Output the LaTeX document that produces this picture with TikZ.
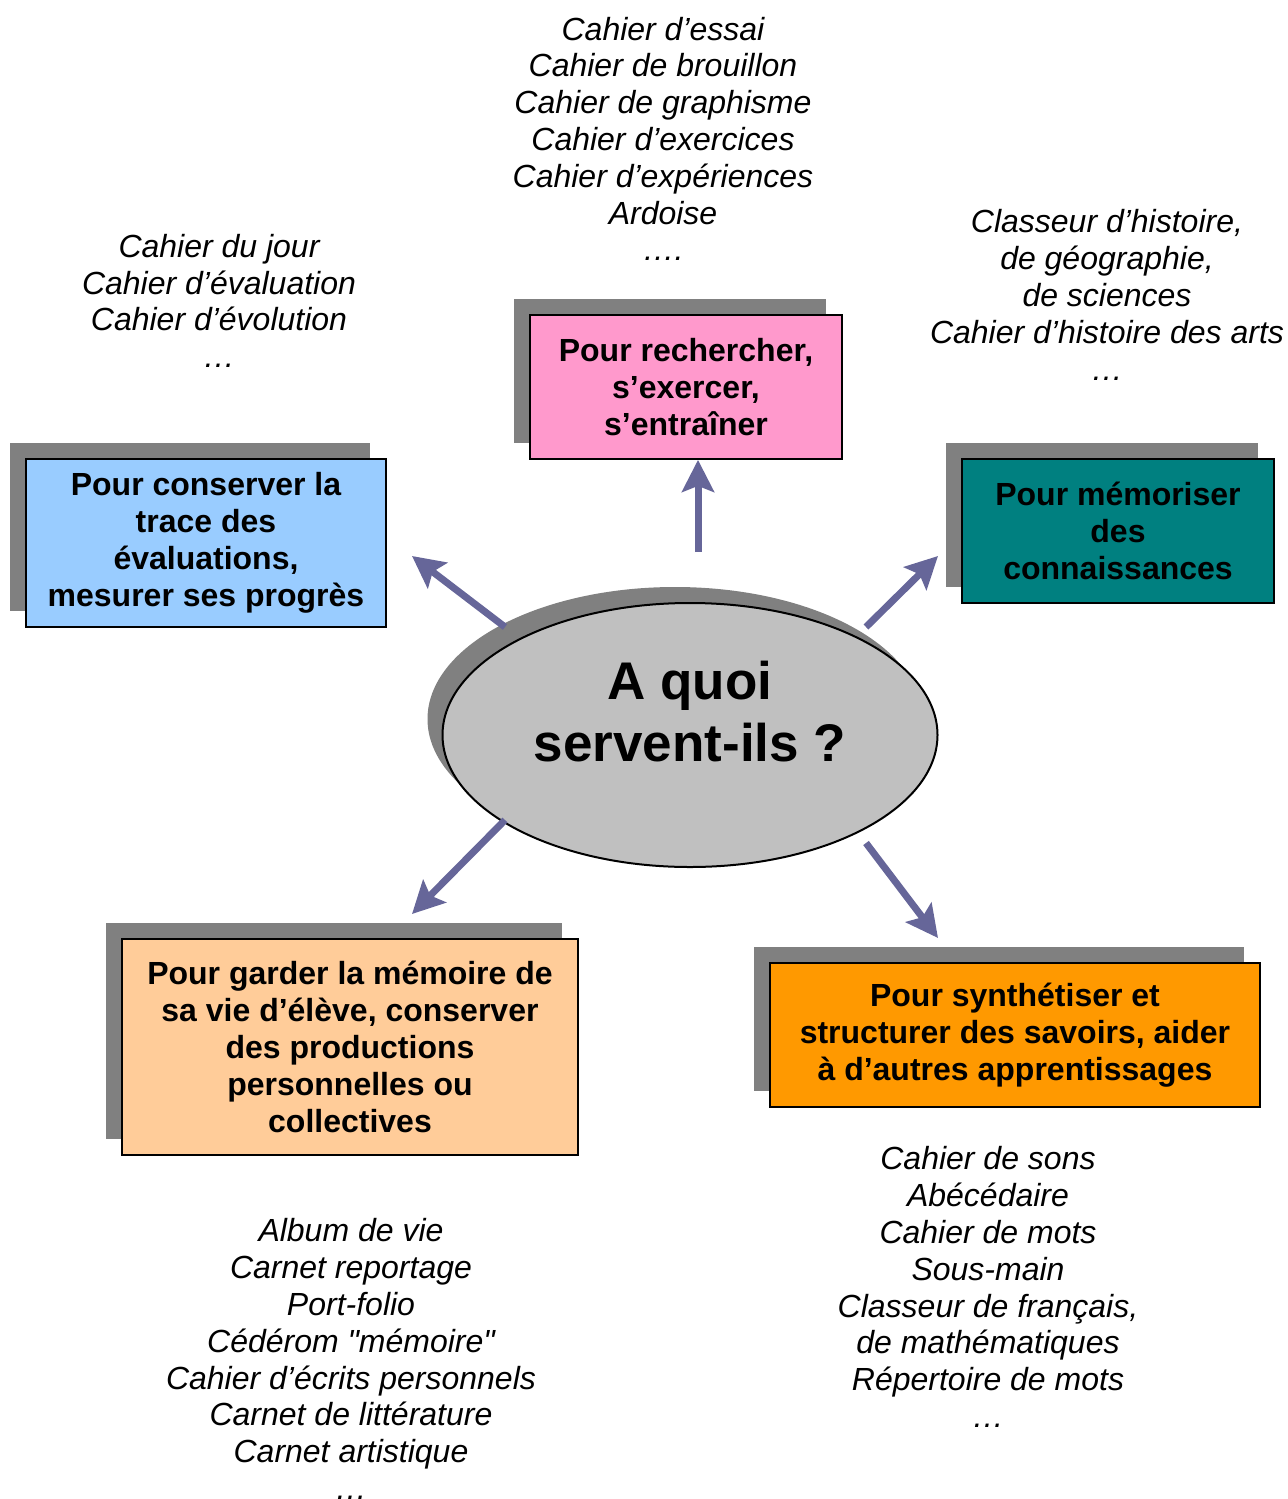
\documentclass[tikz,border=0pt]{standalone}
\usepackage{fontspec}
\setmainfont{Liberation Sans}
\usetikzlibrary{shapes.geometric, shadows}
\usetikzlibrary{arrows.meta}
\usetikzlibrary{positioning}
\definecolor{ombre}{HTML}{808080}
\definecolor{rose}{HTML}{FF99CC}
\definecolor{ciel}{HTML}{99CCFF}
\definecolor{sarcelle}{HTML}{008080}
\definecolor{peche}{HTML}{FFCC99}
\definecolor{orangevif}{HTML}{FF9900}
\definecolor{grisclair}{HTML}{C0C0C0}
\definecolor{fleche}{HTML}{666699}

\begin{document}
\begin{tikzpicture}[x=0.5pt, y=-0.5pt,
		cadre/.style={
			draw,
			line width=0.9pt,
			inner sep=0pt,
			align=center,
			font=\bfseries\fontsize{16}{18.5}\selectfont,
			general shadow={fill=ombre, shadow xshift=-8pt, shadow yshift=8pt},
		},
		liste/.style={align=center, font=\itshape\fontsize{16}{18.4}\selectfont},
		renvoi/.style={draw=fleche, line width=3.5pt, -{Stealth[length=16pt, width=16pt, inset=3pt]}},
	]
		\useasboundingbox (0,0) rectangle (1288,1499);
		
		% centre
		\node[ellipse, draw, line width=1pt, fill=grisclair, minimum width=247.5pt, minimum height=132pt,
			general shadow={fill=ombre, shadow xshift=-7.5pt, shadow yshift=8pt}] (centre) at (690,735) {};
		\node[align=center, font=\bfseries\fontsize{26.5}{31}\selectfont] (question) at (690,712) {A quoi\\servent-ils ?};
		
		% les cinq usages
		\node[cadre, fill=rose, minimum width=156pt, minimum height=72pt] (chercher) at (686,387) {Pour rechercher,\\s’exercer,\\s’entraîner};
		\node[cadre, fill=ciel, minimum width=180pt, minimum height=84pt] (evaluer) at (206,543) {Pour conserver la\\trace des\\évaluations,\\mesurer ses progrès};
		\node[cadre, fill=sarcelle, minimum width=156pt, minimum height=72pt] (memoriser) at (1118,531) {Pour mémoriser\\des\\connaissances};
		\node[cadre, fill=peche, minimum width=228pt, minimum height=108pt] (garder) at (350,1047) {Pour garder la mémoire de\\sa vie d’élève, conserver\\des productions\\personnelles ou\\collectives};
		\node[cadre, fill=orangevif, minimum width=245pt, minimum height=72pt] (structurer) at (1015,1035) {Pour synthétiser et\\structurer des savoirs, aider\\à d’autres apprentissages};
		
		% exemples
		\node[liste] (exChercher) at (663,139) {Cahier d’essai\\Cahier de brouillon\\Cahier de graphisme\\Cahier d’exercices\\Cahier d’expériences\\Ardoise\\….};
		\node[liste] (exEvaluer) at (219,301) {Cahier du jour\\Cahier d’évaluation\\Cahier d’évolution\\…};
		\node[liste] (exMemoriser) at (1107,295) {Classeur d’histoire,\\de géographie,\\de sciences\\Cahier d’histoire des arts\\…};
		\node[liste] (exGarder) at (351,1359) {Album de vie\\Carnet reportage\\Port-folio\\Cédérom \textquotedbl mémoire\textquotedbl\\Cahier d’écrits personnels\\Carnet de littérature\\Carnet artistique\\…};
		\node[liste] (exStructurer) at (988,1287) {Cahier de sons\\Abécédaire\\Cahier de mots\\Sous-main\\Classeur de français,\\de mathématiques\\Répertoire de mots\\…};
		
		% fleches
		\coordinate (dHaut) at (698,552);
		\coordinate (dHG) at (505,627);
		\coordinate (aHG) at (412,556);
		\coordinate (dHD) at (866,627);
		\coordinate (aHD) at (938,556);
		\coordinate (dBG) at (505,820);
		\coordinate (aBG) at (412,914);
		\coordinate (dBD) at (866,843);
		\coordinate (aBD) at (938,938);
		\draw[renvoi] (dHaut) -- (dHaut |- chercher.south);
		\draw[renvoi] (dHG) -- (aHG);
		\draw[renvoi] (dHD) -- (aHD);
		\draw[renvoi] (dBG) -- (aBG);
		\draw[renvoi] (dBD) -- (aBD);
	\end{tikzpicture}
\end{document}
